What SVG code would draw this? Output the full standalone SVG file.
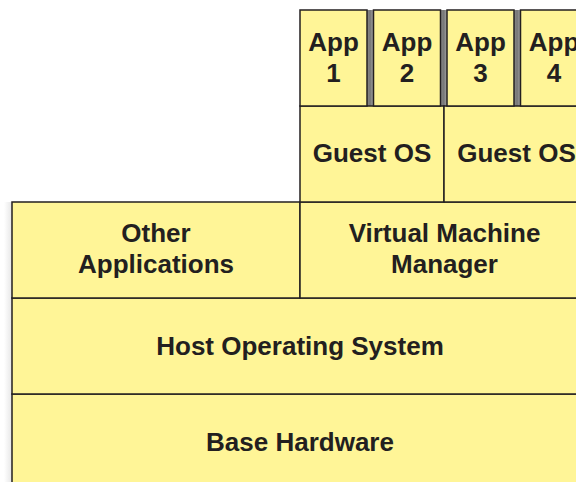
<svg xmlns="http://www.w3.org/2000/svg" width="576" height="482" viewBox="0 0 576 482">
<defs>
<linearGradient id="gap" x1="0" y1="0" x2="1" y2="0">
<stop offset="0" stop-color="#8a8a8a"/>
<stop offset="0.5" stop-color="#777"/>
<stop offset="1" stop-color="#a8a8a8"/>
</linearGradient>
<linearGradient id="edge" x1="0" y1="0" x2="1" y2="0">
<stop offset="0" stop-color="#ffffff"/>
<stop offset="1" stop-color="#e6e6e6"/>
</linearGradient>
</defs>
<style>
.box{fill:#fff597;stroke:#231f20;stroke-width:1.5}
.t{font-family:"Liberation Sans",Arial,sans-serif;font-weight:bold;font-size:26px;fill:#231f20;text-anchor:middle}
</style>
<rect width="576" height="482" fill="#ffffff"/>
<rect x="4" y="202" width="8" height="280" fill="url(#edge)"/>
<g id="gaps">
<rect x="367" y="10" width="6.5" height="96" fill="url(#gap)"/>
<rect x="440.5" y="10" width="6.5" height="96" fill="url(#gap)"/>
<rect x="514" y="10" width="6.5" height="96" fill="url(#gap)"/>
</g>
<g id="connectors"></g>
<g id="base-hardware">
<rect class="box" x="12" y="394" width="580" height="100"/>
<text class="t" x="300" y="451">Base Hardware</text>
</g>
<g id="host-os">
<rect class="box" x="12" y="298" width="580" height="96"/>
<text class="t" x="300" y="355">Host Operating System</text>
</g>
<g id="other-apps">
<rect class="box" x="12" y="202" width="288" height="96"/>
<text class="t" x="156" y="242">Other</text>
<text class="t" x="156" y="273">Applications</text>
</g>
<g id="vmm">
<rect class="box" x="300" y="202" width="292" height="96"/>
<text class="t" x="444.5" y="242">Virtual Machine</text>
<text class="t" x="444.5" y="273">Manager</text>
</g>
<g id="guest-os-1">
<rect class="box" x="300" y="106" width="144" height="96"/>
<text class="t" x="372" y="162">Guest OS</text>
</g>
<g id="guest-os-2">
<rect class="box" x="444" y="106" width="148" height="96"/>
<text class="t" x="516.5" y="162">Guest OS</text>
</g>
<g id="app-1">
<rect class="box" x="300" y="10" width="67" height="96"/>
<text class="t" x="333.5" y="51">App</text>
<text class="t" x="333.5" y="82">1</text>
</g>
<g id="app-2">
<rect class="box" x="373.5" y="10" width="67" height="96"/>
<text class="t" x="407" y="51">App</text>
<text class="t" x="407" y="82">2</text>
</g>
<g id="app-3">
<rect class="box" x="447" y="10" width="67" height="96"/>
<text class="t" x="480.5" y="51">App</text>
<text class="t" x="480.5" y="82">3</text>
</g>
<g id="app-4">
<rect class="box" x="520.5" y="10" width="67" height="96"/>
<text class="t" x="554" y="51">App</text>
<text class="t" x="554" y="82">4</text>
</g>
</svg>
